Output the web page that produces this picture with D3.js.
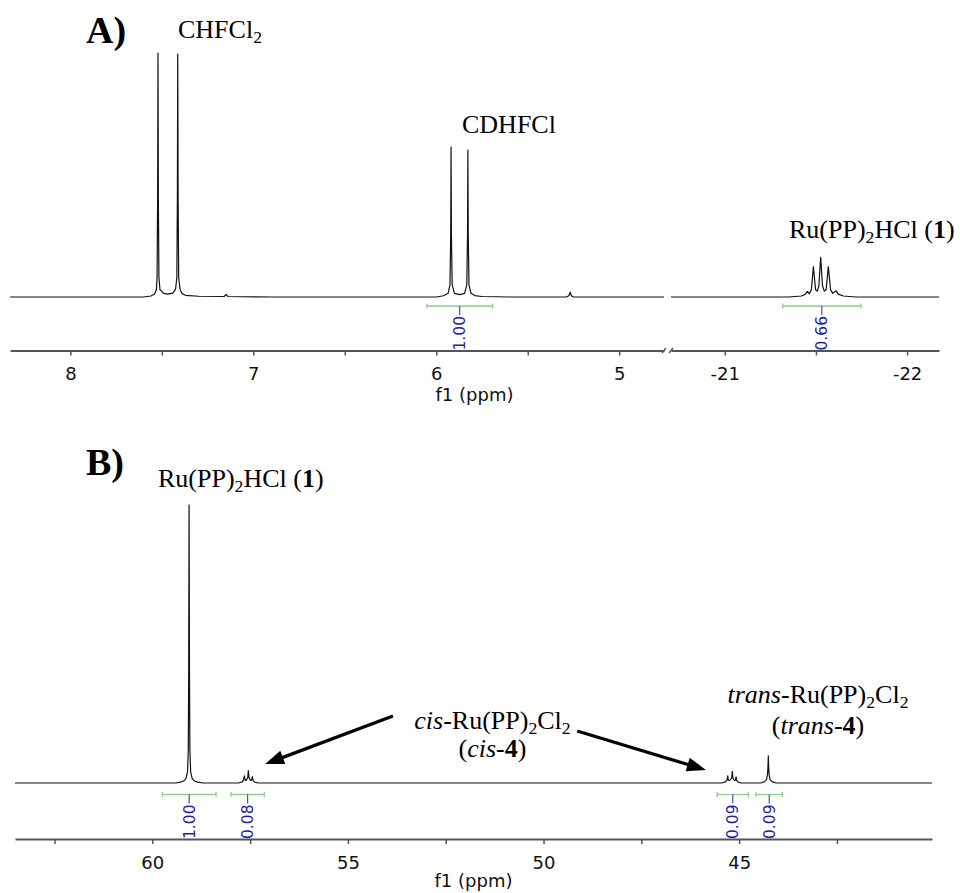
<!DOCTYPE html>
<html><head><meta charset="utf-8">
<script src="https://cdn.jsdelivr.net/npm/d3@7"></script>
<style>body{margin:0;background:#fff;} svg{display:block;}</style>
</head><body>
<svg id="chart" width="960" height="893"></svg>
<script>
// ---------------- DATA (ppm, intensity) ----------------
// Panel A, 1H spectrum, left segment (8.33 .. 4.755 ppm), intensity: CHFCl2 line = 100
const specA_left = [
  [8.33,0],[7.60,0],[7.56,0.4],[7.54,1.2],[7.53,3],[7.526,8],[7.523,40],[7.521,100],[7.519,40],[7.516,8],[7.51,3],
  [7.49,1.5],[7.468,1.2],[7.44,1.6],[7.425,3.2],[7.418,8],[7.415,40],[7.413,99.5],[7.411,40],[7.408,8],[7.40,3],
  [7.39,1.4],[7.37,0.7],[7.30,0.3],[7.16,0.2],[7.148,1.1],[7.14,0.2],[6.90,0],[6.00,0],[5.96,0.5],[5.935,1.5],
  [5.925,5],[5.921,25],[5.919,61.4],[5.917,25],[5.913,5],[5.90,1.5],[5.872,1.0],[5.845,1.5],[5.833,5],[5.829,25],
  [5.827,60.2],[5.825,25],[5.821,5],[5.81,1.5],[5.79,0.6],[5.75,0.2],[5.60,0],[5.29,0],[5.275,0.5],[5.268,2.0],
  [5.261,0.5],[5.25,0],[4.755,0]
];
// Panel A, right segment (hydride region, -20.705 .. -22.175 ppm)
const specA_right = [
  [-20.705,0],[-21.35,0],[-21.42,0.4],[-21.44,1.0],[-21.453,2.3],[-21.464,1.3],[-21.475,3],[-21.486,12.5],
  [-21.498,3],[-21.507,2.4],[-21.516,4.5],[-21.526,16.3],[-21.536,4.5],[-21.546,2.4],[-21.556,3],[-21.568,12.5],
  [-21.580,3],[-21.592,1.5],[-21.61,2.6],[-21.622,1.2],[-21.65,0.4],[-21.72,0],[-22.175,0]
];
// Panel B, 31P spectrum (63.51 .. 40.07 ppm), intensity: main line = 100
const specB = [
  [63.51,0],[59.40,0],[59.28,0.3],[59.20,0.7],[59.14,1.6],[59.10,4],[59.08,12],[59.07,40],[59.06,100],[59.05,40],
  [59.04,12],[59.02,4],[58.98,1.6],[58.92,0.7],[58.84,0.3],[58.70,0],
  [57.80,0],[57.70,0.4],[57.665,1.2],[57.648,2.6],[57.625,1.0],[57.60,0.9],[57.56,2],[57.546,4.5],[57.53,2],
  [57.49,0.9],[57.46,1.1],[57.444,2.3],[57.425,0.9],[57.38,0.3],[57.30,0],
  [45.45,0],[45.35,0.4],[45.305,1.2],[45.291,2.6],[45.275,1.0],[45.24,0.9],[45.19,1.8],[45.174,4.2],[45.16,1.8],
  [45.12,0.9],[45.095,1.0],[45.079,2.2],[45.062,0.9],[45.02,0.3],[44.95,0],
  [44.45,0],[44.36,0.4],[44.30,1.2],[44.275,3],[44.262,6],[44.254,9.8],[44.246,6],[44.233,3],[44.21,1.2],
  [44.15,0.4],[44.05,0],[40.07,0]
];
// tick values (ppm); integers are labelled
const ticksA_left = [8, 7.5, 7, 6.5, 6, 5.5, 5];
const ticksA_right = [-21, -21.5, -22];
const ticksB = [62.5, 60, 57.5, 55, 52.5, 50, 47.5, 45, 42.5];
// integrals: [from ppm, to ppm, label]
const integralsA_left = [[6.051, 5.692, "1.00"]];
const integralsA_right = [[-21.318, -21.747, "0.66"]];
const integralsB = [[59.744, 58.372, "1.00"], [57.988, 57.137, "0.08"], [45.557, 44.765, "0.09"], [44.568, 43.896, "0.09"]];
const axisTitle = "f1 (ppm)";

// ---------------- LAYOUT ----------------
const svg = d3.select("#chart");
const serif = "'Liberation Serif','Times New Roman',serif";
const sans = "'DejaVu Sans', Verdana, sans-serif";

const xA1 = d3.scaleLinear().domain([8.33, 4.755]).range([10, 664]);
const xA2 = d3.scaleLinear().domain([-20.705, -22.175]).range([671, 939]);
const yA = d3.scaleLinear().domain([0, 100]).range([297, 53]);
const xB = d3.scaleLinear().domain([63.51, 40.07]).range([15, 932]);
const yB = d3.scaleLinear().domain([0, 100]).range([783, 505]);
const axisYA = 350.5, axisYB = 839;

function drawSpectrum(data, x, y) {
  svg.append("path").datum(data)
    .attr("d", d3.line().x(d => x(d[0])).y(d => y(d[1])))
    .attr("fill", "none").attr("stroke", "#111").attr("stroke-width", 1.2)
    .attr("stroke-linejoin", "round");
}

function drawAxis(x, ticks, yPos) {
  const g = svg.append("g").attr("transform", `translate(0,${yPos})`)
    .call(d3.axisBottom(x).tickValues(ticks).tickSize(5).tickSizeOuter(0).tickPadding(12)
      .tickFormat(d => Number.isInteger(d) ? String(d) : ""));
  g.select(".domain").attr("stroke", "#555").attr("stroke-width", 2);
  g.selectAll(".tick line").attr("stroke", "#555").attr("stroke-width", 1.5);
  g.selectAll(".tick text").attr("font-family", sans).attr("font-size", 18).attr("fill", "#111");
  return g;
}

function drawIntegral(x, d, bY) {
  const x1 = x(d[0]), x2 = x(d[1]), xc = (x1 + x2) / 2;
  const green = "#8ccf8c";
  svg.append("line").attr("x1", x1).attr("x2", x2).attr("y1", bY).attr("y2", bY).attr("stroke", green).attr("stroke-width", 1.3);
  [x1, x2].forEach(xx => svg.append("line").attr("x1", xx).attr("x2", xx).attr("y1", bY - 2.5).attr("y2", bY + 2.5).attr("stroke", green).attr("stroke-width", 1.3));
  svg.append("line").attr("x1", xc).attr("x2", xc).attr("y1", bY).attr("y2", bY + 9).attr("stroke", "#2a2aa8").attr("stroke-width", 1);
  svg.append("text").attr("transform", `translate(${xc},${bY + 10}) rotate(-90)`)
    .attr("text-anchor", "end").attr("dy", "0.36em")
    .attr("font-family", sans).attr("font-size", 15.5).attr("fill", "#1f1fa0").text(d[2]);
}

function richText(x, y, parts, anchor, size) {
  size = size || 26;
  const t = svg.append("text").attr("x", x).attr("y", y).attr("font-family", serif)
    .attr("font-size", size).attr("text-anchor", anchor || "start").attr("fill", "#000");
  let shift = 0;
  parts.forEach(p => {
    const s = t.append("tspan").text(p.t);
    if (p.sub) { s.attr("font-size", size * 0.68).attr("dy", 5 - shift); shift = 5; }
    else if (shift) { s.attr("dy", -shift); shift = 0; }
    if (p.i) s.attr("font-style", "italic");
    if (p.b) s.attr("font-weight", "bold");
  });
  return t;
}

function drawArrow(x, y, from, to) {
  const x0 = x(from[0]), y0 = y(from[1]), x1 = x(to[0]), y1 = y(to[1]);
  const a = Math.atan2(y1 - y0, x1 - x0), L = 19, W = 7;
  const bx = x1 - L * Math.cos(a), by = y1 - L * Math.sin(a);
  svg.append("line").attr("x1", x0).attr("y1", y0).attr("x2", bx + 2 * Math.cos(a)).attr("y2", by + 2 * Math.sin(a))
    .attr("stroke", "#000").attr("stroke-width", 3.3);
  const pts = [[x1, y1], [bx + W * Math.sin(a), by - W * Math.cos(a)], [bx - W * Math.sin(a), by + W * Math.cos(a)]];
  svg.append("polygon").attr("points", pts.map(p => p.join(",")).join(" ")).attr("fill", "#000");
}

// ---------------- PANEL A ----------------
drawAxis(xA1, ticksA_left, axisYA);
drawAxis(xA2, ticksA_right, axisYA);
// axis break marks
[xA1.range()[1], xA2.range()[0]].forEach(bx => svg.append("line")
  .attr("x1", bx - 2).attr("y1", axisYA + 2.5).attr("x2", bx + 2).attr("y2", axisYA - 2.5)
  .attr("stroke", "#555").attr("stroke-width", 1.5));
drawSpectrum(specA_left, xA1, yA);
drawSpectrum(specA_right, xA2, yA);
integralsA_left.forEach(d => drawIntegral(xA1, d, 306));
integralsA_right.forEach(d => drawIntegral(xA2, d, 306));
svg.append("text").attr("x", (xA1.range()[0] + xA2.range()[1]) / 2).attr("y", 401)
  .attr("text-anchor", "middle").attr("font-family", sans).attr("font-size", 18).attr("fill", "#111").text(axisTitle);

richText(86, 43, [{t: "A)", b: 1}], "start", 38);
richText(178, 38, [{t: "CHFCl"}, {t: "2", sub: 1}]);
richText(462, 133, [{t: "CDHFCl"}]);
richText(789, 238, [{t: "Ru(PP)"}, {t: "2", sub: 1}, {t: "HCl ("}, {t: "1", b: 1}, {t: ")"}]);

// ---------------- PANEL B ----------------
drawAxis(xB, ticksB, axisYB);
drawSpectrum(specB, xB, yB);
integralsB.forEach(d => drawIntegral(xB, d, 794.5));
svg.append("text").attr("x", (xB.range()[0] + xB.range()[1]) / 2).attr("y", 887)
  .attr("text-anchor", "middle").attr("font-family", sans).attr("font-size", 18).attr("fill", "#111").text(axisTitle);

richText(86, 475, [{t: "B)", b: 1}], "start", 38);
richText(158, 487, [{t: "Ru(PP)"}, {t: "2", sub: 1}, {t: "HCl ("}, {t: "1", b: 1}, {t: ")"}]);
richText(492.5, 728.5, [{t: "cis", i: 1}, {t: "-Ru(PP)"}, {t: "2", sub: 1}, {t: "Cl"}, {t: "2", sub: 1}], "middle");
richText(492.5, 756.5, [{t: "("}, {t: "cis", i: 1}, {t: "-"}, {t: "4", b: 1}, {t: ")"}], "middle");
richText(818, 703, [{t: "trans", i: 1}, {t: "-Ru(PP)"}, {t: "2", sub: 1}, {t: "Cl"}, {t: "2", sub: 1}], "middle");
richText(818, 734, [{t: "("}, {t: "trans", i: 1}, {t: "-"}, {t: "4", b: 1}, {t: ")"}], "middle");

// arrows (annotation, in ppm / intensity coordinates of panel B)
drawArrow(xB, yB, [53.85, 24.1], [57.12, 6.8]);
drawArrow(xB, yB, [49.14, 18.7], [45.85, 4.7]);
</script>
</body></html>
